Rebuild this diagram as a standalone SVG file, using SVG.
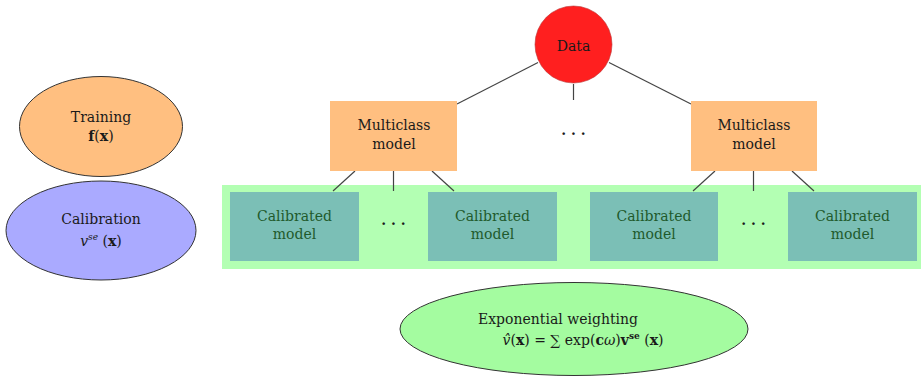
<svg xmlns="http://www.w3.org/2000/svg" width="923" height="377" viewBox="0 0 923 377">
<style>
text{font-family:"DejaVu Serif","Liberation Serif",serif;font-size:14px;text-anchor:middle;fill:#1a1a1a}
.cal text{fill:#1f5a2c}
.conn line{stroke:#444;stroke-width:1.2}
.mc{fill:#ffbf80}
.cb{fill:#7bbfb6}
.oval{stroke:#333;stroke-width:1}
.b{font-weight:bold}
.i{font-style:italic}
</style>
<rect width="923" height="377" fill="#fff"/>
<rect id="band" x="222" y="185" width="699" height="84" fill="#b3ffb3"/>
<g class="conn">
<line x1="538" y1="62.5" x2="457" y2="104"/>
<line x1="573.5" y1="84" x2="573.5" y2="100"/>
<line x1="609" y1="62.5" x2="691" y2="104"/>
<line x1="355" y1="171" x2="333" y2="191"/>
<line x1="393.5" y1="171" x2="393.5" y2="191"/>
<line x1="432" y1="171" x2="454" y2="191"/>
<line x1="715" y1="171" x2="693" y2="191"/>
<line x1="753.5" y1="171" x2="753.5" y2="191"/>
<line x1="792" y1="171" x2="814" y2="191"/>
</g>
<g id="training"><ellipse class="oval" cx="101" cy="126.5" rx="81.5" ry="50" fill="#ffbf80"/>
<text x="101" y="122">Training</text>
<text x="101" y="141"><tspan class="b">f</tspan>(<tspan class="b">x</tspan>)</text></g>
<g id="calibration"><ellipse class="oval" cx="101" cy="230.5" rx="95" ry="49.5" fill="#aaaaff"/>
<text x="101" y="224">Calibration</text>
<text x="101" y="246"><tspan class="i">v</tspan><tspan class="i" font-size="9" dy="-6">se</tspan><tspan dy="6"> (</tspan><tspan class="b">x</tspan>)</text></g>
<g id="data"><ellipse cx="573.5" cy="44.5" rx="38.5" ry="38.5" fill="#ff1f1f" stroke="#b33" stroke-width="0.6"/>
<text x="573.5" y="51">Data</text></g>
<g id="multiclass1"><rect class="mc" x="330" y="101" width="127" height="70"/>
<text x="394" y="130">Multiclass</text><text x="394" y="149">model</text></g>
<g id="dots-top"><text x="573.5" y="139" font-size="18" class="b">· · ·</text></g>
<g id="multiclass2"><rect class="mc" x="691" y="101" width="126" height="70"/>
<text x="754" y="130">Multiclass</text><text x="754" y="149">model</text></g>
<g id="cal1" class="cal"><rect class="cb" x="230" y="192" width="129" height="69"/>
<text x="294.5" y="221">Calibrated</text><text x="294.5" y="239">model</text></g>
<g id="dots-left"><text x="393.5" y="229" font-size="18" class="b">· · ·</text></g>
<g id="cal2" class="cal"><rect class="cb" x="428" y="192" width="129" height="69"/>
<text x="492.5" y="221">Calibrated</text><text x="492.5" y="239">model</text></g>
<g id="cal3" class="cal"><rect class="cb" x="590" y="192" width="128" height="69"/>
<text x="654" y="221">Calibrated</text><text x="654" y="239">model</text></g>
<g id="dots-right"><text x="753.5" y="229" font-size="18" class="b">· · ·</text></g>
<g id="cal4" class="cal"><rect class="cb" x="788" y="192" width="129" height="69"/>
<text x="852.5" y="221">Calibrated</text><text x="852.5" y="239">model</text></g>
<g id="weighting"><ellipse class="oval" cx="574" cy="329" rx="174" ry="46.5" fill="#a4fca0"/>
<text x="558" y="324">Exponential weighting</text>
<text x="583" y="345"><tspan class="i">v̂</tspan>(<tspan class="b">x</tspan>) = ∑ exp(<tspan class="b">c</tspan><tspan class="i">ω</tspan>)<tspan class="b">v</tspan><tspan class="b" font-size="9" dy="-6">se</tspan><tspan dy="6"> (</tspan><tspan class="b">x</tspan>)</text></g>
</svg>
